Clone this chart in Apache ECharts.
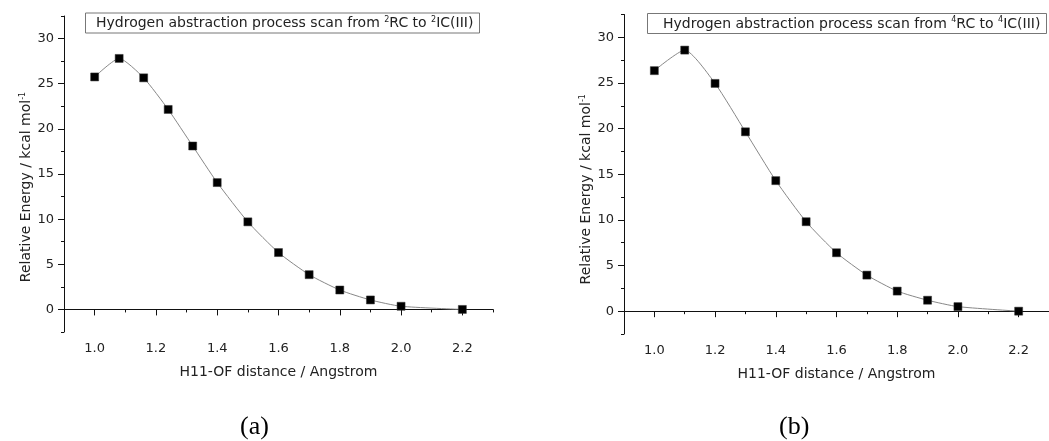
<!DOCTYPE html>
<html>
<head>
<meta charset="utf-8">
<script src="https://cdn.jsdelivr.net/npm/echarts@6/dist/echarts.min.js"></script>
<style>
html,body{margin:0;padding:0;background:#fff;}
#chart{width:1049px;height:441px;}
</style>
</head>
<body>
<div id="chart"></div>
<script>
// Panel (a): 2RC -> 2IC(III)
const distA = [1.0, 1.08, 1.16, 1.24, 1.32, 1.4, 1.5, 1.6, 1.7, 1.8, 1.9, 2.0, 2.2];
const energyA = [25.75, 27.8, 25.65, 22.15, 18.1, 14.05, 9.7, 6.3, 3.85, 2.15, 1.05, 0.35, 0.0];
// Panel (b): 4RC -> 4IC(III)
const distB = [1.0, 1.1, 1.2, 1.3, 1.4, 1.5, 1.6, 1.7, 1.8, 1.9, 2.0, 2.2];
const energyB = [26.35, 28.6, 24.95, 19.65, 14.3, 9.8, 6.4, 3.95, 2.2, 1.2, 0.5, 0.0];

const xTickLabels = [1.0, 1.2, 1.4, 1.6, 1.8, 2.0, 2.2];
const yTickLabels = [0, 5, 10, 15, 20, 25, 30];
const titleA = 'Hydrogen abstraction process scan from {sup|2}RC to {sup|2}IC(III)';
const titleB = 'Hydrogen abstraction process scan from {sup|4}RC to {sup|4}IC(III)';
const xName = 'H11-OF distance / Angstrom';
const yName = 'Relative Energy / kcal mol{sup|-1}';
const captions = ['(a)', '(b)'];

const FONT = 'DejaVu Sans';
const chart = echarts.init(document.getElementById('chart'));

const grids = [
  {left: 64, top: 16, width: 429, height: 316},
  {left: 624, top: 14.5, width: 433, height: 319.5}
];

function xAxesFor(gi) {
  return [
    {
      type: 'value', gridIndex: gi, min: 0.9, max: 2.3, interval: 0.1,
      position: 'bottom',
      axisLine: {show: true, lineStyle: {color: '#111', width: 1}},
      axisTick: {show: true, length: 6, customValues: xTickLabels, lineStyle: {color: '#111'}},
      axisLabel: {show: true, customValues: xTickLabels, margin: 10, fontFamily: FONT, fontSize: 13, color: '#222',
                  formatter: v => v.toFixed(1)},
      splitLine: {show: false},
      name: xName, nameLocation: 'middle', nameGap: 33,
      nameTextStyle: {fontFamily: FONT, fontSize: 14, color: '#222'}
    },
    {
      type: 'value', gridIndex: gi, min: 0.9, max: 2.3, interval: 0.1,
      position: 'bottom',
      axisLine: {show: false},
      axisTick: {show: true, length: 3, lineStyle: {color: '#111'}},
      axisLabel: {show: false},
      splitLine: {show: false}
    }
  ];
}
function yAxesFor(gi, gapShift) {
  return [
    {
      type: 'value', gridIndex: gi, min: -2.5, max: 32.5, interval: 2.5,
      position: 'left',
      axisLine: {show: true, lineStyle: {color: '#111', width: 1}},
      axisTick: {show: true, length: 6, customValues: yTickLabels, lineStyle: {color: '#111'}},
      axisLabel: {show: true, customValues: yTickLabels, margin: 10, fontFamily: FONT, fontSize: 13, color: '#222'},
      splitLine: {show: false},
      name: yName, nameLocation: 'middle', nameGap: 30,
      nameTextStyle: {fontFamily: FONT, fontSize: 14, color: '#222', padding: [0, gapShift, 0, 0],
        rich: {sup: {fontFamily: FONT, fontSize: 8, color: '#222', verticalAlign: 'top', padding: [0, 0, 7, 0]}}}
    },
    {
      type: 'value', gridIndex: gi, min: -2.5, max: 32.5, interval: 2.5,
      position: 'left',
      axisLine: {show: false},
      axisTick: {show: true, length: 3, lineStyle: {color: '#111'}},
      axisLabel: {show: false},
      splitLine: {show: false}
    }
  ];
}

const supRich = {sup: {fontFamily: FONT, fontSize: 8, color: '#222', padding: [0, 0, 8, 0]}};

const option = {
  backgroundColor: '#fff',
  animation: false,
  grid: grids,
  xAxis: [...xAxesFor(0), ...xAxesFor(1)],
  yAxis: [...yAxesFor(0, 26), ...yAxesFor(1, 30)],
  title: [
    {text: titleA, left: 85, top: 12.5, padding: [3, 6, 3, 11],
     borderColor: '#777', borderWidth: 1,
     textStyle: {fontFamily: FONT, fontSize: 14, fontWeight: 'normal', color: '#222', rich: supRich}},
    {text: titleB, left: 647, top: 13, padding: [3, 6, 3, 16],
     borderColor: '#777', borderWidth: 1,
     textStyle: {fontFamily: FONT, fontSize: 14, fontWeight: 'normal', color: '#222', rich: supRich}}
  ],
  graphic: [
    {type: 'text', left: 240, top: 414, style: {text: captions[0], font: '26px "Liberation Serif"', fill: '#000'}},
    {type: 'text', left: 779, top: 414, style: {text: captions[1], font: '26px "Liberation Serif"', fill: '#000'}}
  ],
  series: [
    {
      type: 'line', xAxisIndex: 0, yAxisIndex: 0,
      data: distA.map((x, i) => [x, energyA[i]]),
      smooth: 0.2, symbol: 'rect', symbolSize: 8,
      lineStyle: {color: '#888', width: 1},
      itemStyle: {color: '#000', borderColor: '#333', borderWidth: 0.5}
    },
    {
      type: 'line', xAxisIndex: 2, yAxisIndex: 2,
      data: distB.map((x, i) => [x, energyB[i]]),
      smooth: 0.2, symbol: 'rect', symbolSize: 8,
      lineStyle: {color: '#888', width: 1},
      itemStyle: {color: '#000', borderColor: '#333', borderWidth: 0.5}
    }
  ]
};
chart.setOption(option);
</script>
</body>
</html>
